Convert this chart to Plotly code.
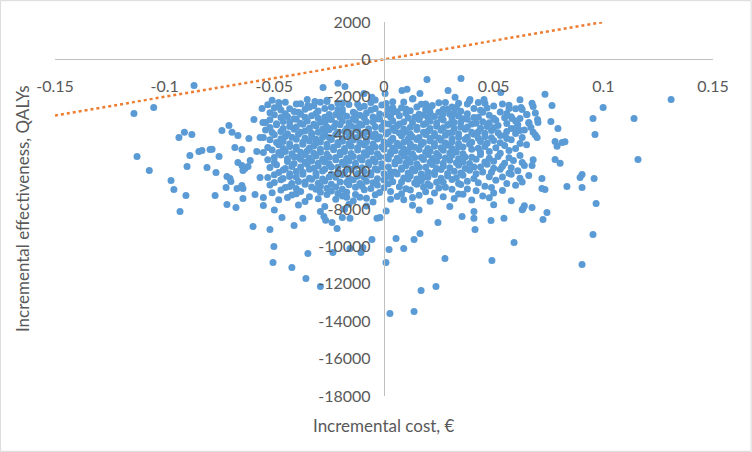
# %%
import plotly.graph_objects as go

# %%
# simulation points (incremental cost, incremental effect)
# dense central cloud, written row by row from top to bottom
core_cost = [
    -0.051, -0.045, -0.035, -0.026, -0.019, -0.004, 0.004, 0.013, 0.028, 0.039, 0.046, 0.062,
    -0.053, -0.048, -0.040, -0.032, -0.024, -0.016, -0.009, -0.001, 0.008, 0.017, 0.022, 0.031, 0.038, 0.050, 0.057, 0.068,
    -0.047, -0.041, -0.036, -0.030, -0.021, -0.014, -0.006, 0.002, 0.006, 0.012, 0.019, 0.025, 0.029, 0.035, 0.044, 0.053, 0.063,
    -0.050, -0.044, -0.038, -0.033, -0.027, -0.022, -0.017, -0.011, -0.005, 0.001, 0.007, 0.014, 0.018, 0.023, 0.030, 0.034, 0.041, 0.048, 0.058, 0.065,
    -0.052, -0.046, -0.040, -0.035, -0.029, -0.024, -0.019, -0.013, -0.008, -0.002, 0.004, 0.009, 0.016, 0.021, 0.027, 0.032, 0.038, 0.045, 0.051, 0.060, 0.070,
    -0.049, -0.043, -0.037, -0.031, -0.026, -0.020, -0.015, -0.010, -0.004, 0.002, 0.006, 0.012, 0.018, 0.024, 0.029, 0.035, 0.040, 0.047, 0.052, 0.061,
    -0.054, -0.047, -0.041, -0.036, -0.030, -0.025, -0.018, -0.012, -0.007, -0.001, 0.005, 0.010, 0.015, 0.020, 0.026, 0.031, 0.037, 0.043, 0.049, 0.056, 0.064,
    -0.050, -0.045, -0.039, -0.033, -0.028, -0.022, -0.016, -0.011, -0.005, 0.001, 0.008, 0.013, 0.019, 0.023, 0.028, 0.034, 0.041, 0.046, 0.053, 0.069,
    -0.052, -0.046, -0.040, -0.034, -0.029, -0.024, -0.019, -0.014, -0.008, -0.003, 0.003, 0.009, 0.015, 0.021, 0.026, 0.031, 0.037, 0.044, 0.050, 0.058,
    -0.048, -0.043, -0.037, -0.032, -0.026, -0.021, -0.015, -0.009, -0.004, 0.002, 0.007, 0.012, 0.017, 0.023, 0.029, 0.034, 0.039, 0.046, 0.055, 0.065,
    -0.051, -0.045, -0.040, -0.035, -0.029, -0.023, -0.018, -0.012, -0.006, 0.000, 0.005, 0.011, 0.016, 0.021, 0.027, 0.033, 0.040, 0.048, 0.057,
    -0.047, -0.041, -0.036, -0.031, -0.025, -0.020, -0.014, -0.008, -0.002, 0.003, 0.009, 0.014, 0.020, 0.025, 0.031, 0.037, 0.044, 0.052, 0.062,
    -0.053, -0.044, -0.038, -0.033, -0.027, -0.022, -0.016, -0.010, -0.004, 0.002, 0.007, 0.012, 0.018, 0.024, 0.030, 0.036, 0.042, 0.050, 0.059, 0.068,
    -0.049, -0.042, -0.035, -0.030, -0.024, -0.018, -0.013, -0.007, -0.001, 0.005, 0.010, 0.016, 0.022, 0.027, 0.034, 0.041, 0.047, 0.054, 0.064,
    -0.046, -0.040, -0.034, -0.028, -0.021, -0.015, -0.009, -0.003, 0.003, 0.008, 0.014, 0.020, 0.026, 0.032, 0.039, 0.045, 0.053, 0.061,
    -0.050, -0.043, -0.037, -0.031, -0.025, -0.019, -0.012, -0.006, 0.001, 0.006, 0.012, 0.018, 0.023, 0.029, 0.036, 0.048, 0.058, 0.066,
    -0.047, -0.039, -0.033, -0.027, -0.020, -0.014, -0.008, 0.000, 0.004, 0.011, 0.017, 0.024, 0.031, 0.038, 0.051, 0.063,
    -0.052, -0.043, -0.036, -0.029, -0.022, -0.016, -0.010, -0.003, 0.007, 0.015, 0.021, 0.028, 0.035, 0.046, 0.060,
    -0.047, -0.038, -0.031, -0.024, -0.017, -0.009, 0.003, 0.012, 0.019, 0.031, 0.042, 0.054,
    -0.042, -0.034, -0.026, -0.019, -0.011, -0.004, 0.006, 0.016, 0.027, 0.036, 0.045,
    -0.048, -0.036, -0.022, -0.014, -0.005, 0.009, 0.021, 0.040, 0.058,
    -0.039, -0.027, -0.016, -0.008, 0.013, 0.030, 0.050, 0.064,
    -0.050, -0.029, -0.018, 0.001, 0.016, 0.041, 0.063,
]
core_effect = [
    -2180, -2290, -2140, -2250, -2330, -2170, -2260, -2120, -2300, -2210, -2350, -2160,
    -2420, -2530, -2390, -2480, -2560, -2410, -2500, -2440, -2580, -2400, -2470, -2540, -2380, -2490, -2450, -2520,
    -2700, -2790, -2660, -2760, -2680, -2820, -2710, -2650, -2800, -2740, -2690, -2830, -2670, -2770, -2720, -2810, -2680,
    -2960, -3060, -2930, -3020, -3100, -2950, -3040, -2980, -3080, -2940, -3010, -3090, -2970, -3050, -2920, -3030, -3110, -2990, -3070, -2950,
    -3230, -3320, -3200, -3290, -3360, -3220, -3300, -3250, -3340, -3190, -3280, -3350, -3210, -3310, -3240, -3370, -3200, -3330, -3260, -3300, -3220,
    -3500, -3590, -3470, -3560, -3620, -3490, -3580, -3510, -3600, -3460, -3550, -3630, -3480, -3570, -3520, -3610, -3450, -3590, -3540, -3500,
    -3770, -3860, -3740, -3830, -3900, -3760, -3850, -3780, -3880, -3730, -3820, -3890, -3750, -3840, -3790, -3910, -3740, -3870, -3800, -3850, -3770,
    -4030, -4120, -4000, -4090, -4160, -4020, -4110, -4050, -4140, -3990, -4080, -4150, -4010, -4100, -4060, -4170, -4000, -4130, -4070, -4040,
    -4300, -4390, -4270, -4360, -4420, -4290, -4380, -4310, -4400, -4260, -4350, -4430, -4280, -4370, -4320, -4410, -4270, -4390, -4340, -4300,
    -4570, -4660, -4540, -4630, -4700, -4560, -4650, -4580, -4680, -4530, -4620, -4690, -4550, -4640, -4590, -4670, -4540, -4660, -4610, -4570,
    -4840, -4930, -4810, -4900, -4960, -4830, -4920, -4850, -4940, -4800, -4890, -4970, -4820, -4910, -4860, -4950, -4810, -4920, -4870,
    -5110, -5200, -5080, -5170, -5230, -5100, -5190, -5120, -5210, -5070, -5160, -5240, -5090, -5180, -5130, -5220, -5080, -5190, -5140,
    -5370, -5460, -5340, -5430, -5490, -5360, -5450, -5380, -5470, -5330, -5420, -5500, -5350, -5440, -5390, -5480, -5340, -5450, -5400, -5370,
    -5640, -5730, -5610, -5700, -5760, -5630, -5720, -5650, -5740, -5600, -5690, -5770, -5620, -5710, -5660, -5750, -5610, -5720, -5670,
    -5910, -6000, -5880, -5970, -6030, -5900, -5990, -5920, -6010, -5870, -5960, -6040, -5890, -5980, -5930, -6020, -5880, -5950,
    -6170, -6260, -6140, -6230, -6290, -6160, -6250, -6180, -6270, -6130, -6220, -6300, -6150, -6240, -6190, -6280, -6140, -6210,
    -6440, -6530, -6410, -6500, -6560, -6430, -6520, -6450, -6540, -6400, -6490, -6570, -6420, -6510, -6460, -6550,
    -6710, -6800, -6680, -6770, -6830, -6700, -6790, -6720, -6810, -6670, -6760, -6840, -6690, -6780, -6730,
    -6980, -7070, -6950, -7040, -7100, -6970, -7060, -6990, -7080, -6940, -7030, -7010,
    -7250, -7340, -7220, -7310, -7370, -7240, -7330, -7260, -7350, -7210, -7300,
    -7510, -7600, -7480, -7570, -7630, -7500, -7590, -7520, -7560,
    -7780, -7870, -7750, -7840, -7800, -7860, -7770, -7820,
    -8050, -8140, -8020, -8110, -8060, -8130, -8040,
]

# points lying between the rows above, where the cloud is densest
fill_cost = [
    -0.048, -0.038, -0.029, -0.021, -0.012, -0.006, 0.001, 0.009, 0.019, 0.025, 0.034, 0.043, 0.054,
    -0.050, -0.043, -0.034, -0.027, -0.019, -0.011, -0.004, 0.004, 0.010, 0.015, 0.021, 0.027, 0.033, 0.041, 0.047, 0.060,
    -0.052, -0.045, -0.039, -0.031, -0.025, -0.019, -0.013, -0.008, -0.002, 0.004, 0.010, 0.016, 0.021, 0.027, 0.032, 0.038, 0.045, 0.056, 0.069,
    -0.047, -0.041, -0.036, -0.030, -0.025, -0.020, -0.014, -0.009, -0.003, 0.003, 0.011, 0.016, 0.020, 0.026, 0.031, 0.036, 0.043, 0.050, 0.055, 0.062,
    -0.054, -0.049, -0.043, -0.038, -0.032, -0.027, -0.022, -0.016, -0.011, -0.005, 0.000, 0.007, 0.013, 0.019, 0.024, 0.030, 0.035, 0.042, 0.048, 0.056, 0.066,
    -0.052, -0.046, -0.040, -0.034, -0.028, -0.023, -0.017, -0.013, -0.007, -0.001, 0.004, 0.009, 0.015, 0.021, 0.027, 0.032, 0.038, 0.044, 0.050, 0.058, 0.067,
    -0.051, -0.044, -0.038, -0.033, -0.027, -0.021, -0.015, -0.009, -0.004, 0.002, 0.007, 0.012, 0.018, 0.023, 0.029, 0.034, 0.040, 0.046, 0.052, 0.060,
    -0.055, -0.047, -0.042, -0.036, -0.031, -0.025, -0.019, -0.013, -0.008, -0.002, 0.004, 0.011, 0.016, 0.021, 0.025, 0.031, 0.038, 0.043, 0.049, 0.056, 0.063,
    -0.049, -0.043, -0.037, -0.031, -0.026, -0.021, -0.016, -0.011, -0.005, 0.000, 0.006, 0.012, 0.018, 0.023, 0.028, 0.034, 0.040, 0.047, 0.053, 0.062,
    -0.053, -0.046, -0.040, -0.034, -0.029, -0.023, -0.018, -0.012, -0.007, -0.001, 0.004, 0.009, 0.014, 0.020, 0.026, 0.031, 0.036, 0.043, 0.051, 0.060,
    -0.048, -0.042, -0.038, -0.032, -0.026, -0.020, -0.015, -0.009, -0.003, 0.003, 0.008, 0.013, 0.019, 0.024, 0.030, 0.036, 0.044, 0.053,
    -0.050, -0.044, -0.039, -0.034, -0.028, -0.022, -0.017, -0.011, -0.005, 0.001, 0.006, 0.011, 0.017, 0.022, 0.028, 0.034, 0.040, 0.048, 0.057,
    -0.050, -0.041, -0.036, -0.030, -0.025, -0.019, -0.013, -0.007, -0.001, 0.005, 0.010, 0.015, 0.021, 0.027, 0.033, 0.039, 0.046, 0.055, 0.063,
    -0.052, -0.045, -0.038, -0.032, -0.027, -0.021, -0.016, -0.010, -0.004, 0.002, 0.008, 0.013, 0.019, 0.024, 0.030, 0.037, 0.044, 0.050, 0.058,
    -0.048, -0.043, -0.037, -0.031, -0.024, -0.018, -0.012, -0.006, 0.000, 0.005, 0.011, 0.017, 0.023, 0.029, 0.035, 0.042, 0.049, 0.057,
    -0.053, -0.046, -0.040, -0.034, -0.028, -0.022, -0.016, -0.009, -0.003, 0.003, 0.009, 0.015, 0.020, 0.026, 0.033, 0.041, 0.054, 0.062,
    -0.050, -0.042, -0.036, -0.030, -0.024, -0.017, -0.011, -0.005, 0.002, 0.008, 0.014, 0.020, 0.027, 0.034, 0.043, 0.056,
    -0.045, -0.040, -0.033, -0.026, -0.019, -0.013, -0.006, 0.000, 0.010, 0.018, 0.025, 0.038, 0.049,
    -0.051, -0.040, -0.029, -0.021, -0.013, -0.002, 0.008, 0.023, 0.034, 0.050,
    -0.044, -0.030, -0.017, -0.008, 0.003, 0.013, 0.032, 0.048,
]
fill_effect = [
    -2310, -2370, -2290, -2350, -2400, -2300, -2360, -2280, -2390, -2320, -2340, -2300, -2380,
    -2580, -2640, -2560, -2620, -2670, -2570, -2630, -2590, -2650, -2550, -2610, -2660, -2570, -2630, -2600, -2640,
    -2850, -2910, -2830, -2890, -2940, -2840, -2900, -2860, -2920, -2820, -2880, -2930, -2840, -2900, -2870, -2910, -2830, -2890, -2860,
    -3110, -3170, -3090, -3150, -3200, -3100, -3160, -3120, -3180, -3080, -3140, -3190, -3100, -3160, -3130, -3170, -3090, -3150, -3120, -3160,
    -3380, -3440, -3360, -3420, -3470, -3370, -3430, -3390, -3450, -3350, -3410, -3460, -3370, -3430, -3400, -3440, -3360, -3420, -3390, -3430, -3380,
    -3640, -3700, -3620, -3680, -3730, -3630, -3690, -3650, -3710, -3610, -3670, -3720, -3630, -3690, -3660, -3700, -3620, -3680, -3650, -3690, -3640,
    -3910, -3970, -3890, -3950, -4000, -3900, -3960, -3920, -3980, -3880, -3940, -3990, -3900, -3960, -3930, -3970, -3890, -3950, -3920, -3960,
    -4180, -4240, -4160, -4220, -4270, -4170, -4230, -4190, -4250, -4150, -4210, -4260, -4170, -4230, -4200, -4240, -4160, -4220, -4190, -4230, -4180,
    -4450, -4510, -4430, -4490, -4540, -4440, -4500, -4460, -4520, -4420, -4480, -4530, -4440, -4500, -4470, -4510, -4430, -4490, -4460, -4500,
    -4710, -4770, -4690, -4750, -4800, -4700, -4760, -4720, -4780, -4680, -4740, -4790, -4700, -4760, -4730, -4770, -4690, -4750, -4720, -4760,
    -4980, -5040, -4960, -5020, -5070, -4970, -5030, -4990, -5050, -4950, -5010, -5060, -4970, -5030, -5000, -5040, -4960, -5020,
    -5250, -5310, -5230, -5290, -5340, -5240, -5300, -5260, -5320, -5220, -5280, -5330, -5240, -5300, -5270, -5310, -5230, -5290, -5260,
    -5510, -5570, -5490, -5550, -5600, -5500, -5560, -5520, -5580, -5480, -5540, -5590, -5500, -5560, -5530, -5570, -5490, -5550, -5520,
    -5780, -5840, -5760, -5820, -5870, -5770, -5830, -5790, -5850, -5750, -5810, -5860, -5770, -5830, -5800, -5840, -5760, -5820, -5790,
    -6050, -6110, -6030, -6090, -6140, -6040, -6100, -6060, -6120, -6020, -6080, -6130, -6040, -6100, -6070, -6110, -6030, -6090,
    -6310, -6370, -6290, -6350, -6400, -6300, -6360, -6320, -6380, -6280, -6340, -6390, -6300, -6360, -6330, -6370, -6290, -6350,
    -6580, -6640, -6560, -6620, -6670, -6570, -6630, -6590, -6650, -6550, -6610, -6660, -6570, -6630, -6600, -6640,
    -6850, -6910, -6830, -6890, -6940, -6840, -6900, -6860, -6920, -6820, -6880, -6930, -6850,
    -7130, -7190, -7110, -7170, -7220, -7120, -7180, -7140, -7200, -7150,
    -7390, -7450, -7370, -7430, -7480, -7380, -7440, -7400,
]

# scattered points around the cloud
outer_cost = [
    -0.0866, -0.114, -0.105, -0.0935, -0.091, -0.0876, -0.0739, -0.0707, -0.0693, -0.0666,
    -0.0616, -0.0565, -0.0593, -0.0556, -0.0552, -0.1126, -0.107, -0.0971, -0.0958, -0.093,
    -0.0903, -0.0898, -0.0885, -0.0844, -0.083, -0.0793, -0.0784, -0.0807, -0.0766, -0.077,
    -0.0752, -0.0716, -0.0702, -0.0698, -0.072, -0.0716, -0.0675, -0.067, -0.0648, -0.0643,
    -0.0643, -0.0666, -0.0648, -0.0634, -0.062, -0.061, -0.0643, -0.0588, -0.058, -0.068,
    -0.0648, -0.0565, -0.055, -0.055, -0.055, -0.0597,
    -0.052, -0.0502, -0.0506, -0.0465, -0.041, -0.042, -0.037, -0.0347, -0.0356, -0.029,
    -0.0274, -0.0266, -0.0237, -0.0214, -0.019, -0.0155, -0.0233, -0.0155, -0.0105, -0.0096,
    -0.0055, -0.0032, -0.0018, 0.0009, 0.0023, 0.0055, 0.0027, 0.009,
    0.0246, 0.0356, 0.041, 0.0415, 0.0488, 0.0547, 0.0725, 0.0164, 0.0137, 0.0278,
    0.0492, 0.0593, 0.0237, 0.0169, 0.0137, 0.0953, 0.0903,
    0.0789, 0.078, 0.0803, 0.1158, 0.0903, 0.0894, 0.0958, 0.0834, 0.0903, 0.0967,
    0.0734, 0.0743, 0.1309, 0.0999, 0.0953, 0.114, 0.0962, 0.0766, 0.0761, 0.0793,
    0.078, 0.0812, 0.0825, 0.0734, 0.0196, 0.0351, 0.0533, 0.0292, 0.0324, 0.0392,
    0.0456, 0.0164, 0.0132, 0.0105, 0.0675, 0.0625, 0.057, 0.0652, 0.0661, 0.0702,
    0.0584, 0.0597, 0.062, 0.068, 0.0698, 0.0552, 0.072, 0.0675, 0.072, 0.0675, 0.0634,
    -0.021, -0.0278, -0.0178, -0.0091, -0.0055, 0.0005, -0.0315, -0.0347, -0.026, 0.0082,
]
outer_effect = [
    -1390, -2890, -2570, -4170, -3900, -4010, -3800, -3530, -3900, -4070,
    -4230, -4170, -3210, -2620, -3370, -5190, -5940, -6480, -6960, -8130,
    -7280, -5730, -5140, -4920, -4870, -4820, -4810, -5780, -6050, -7280,
    -5190, -6260, -6370, -6530, -6850, -7760, -7920, -6900, -6740, -6900,
    -7440, -5510, -5670, -5830, -5730, -5400, -5940, -7220, -4920, -4710,
    -4820, -6310, -4980, -7380, -7810, -8940,
    -9100, -10000, -10860, -8450, -8880, -11130, -8500, -10380, -11720, -12150,
    -8400, -8600, -8720, -9040, -8450, -8500, -10330, -10110, -10330, -10060,
    -9630, -8500, -8450, -10860, -10170, -9580, -13590, -10110,
    -8720, -8400, -8500, -9100, -8610, -8500, -8560, -9310, -9630, -10650,
    -10750, -9790, -12150, -12360, -13480, -9360, -10970,
    -4650, -5350, -5560, -5350, -6150, -6310, -6370, -6800, -6850, -7700,
    -6960, -8190, -2140, -2570, -3160, -3160, -4010, -2460, -3320, -3690,
    -4390, -4440, -4400, -1870, -1070, -1020, -1770, -1660, -2030, -2140,
    -2140, -1820, -2090, -1600, -2350, -2570, -2620, -2940, -3420, -3370,
    -3160, -3690, -3800, -3900, -4170, -4070, -6370, -5670, -6900, -7920, -7970,
    -1280, -1500, -1450, -1820, -2030, -1820, -2250, -2460, -2190, -1660,
]

# willingness-to-pay threshold line
wtp_cost = [-0.15, 0.1]
wtp_effect = [-3000, 2000]

x_ticks = [-0.15, -0.1, -0.05, 0, 0.05, 0.1, 0.15]
x_labels = ["-0.15", "-0.1", "-0.05", "0", "0.05", "0.1", "0.15"]
y_ticks = [2000, 0, -2000, -4000, -6000, -8000, -10000, -12000, -14000, -16000, -18000]
y_labels = ["2000", "0", "-2000", "-4000", "-6000", "-8000", "-10000", "-12000", "-14000", "-16000", "-18000"]

# %%
fig = go.Figure()
fig.add_trace(
    go.Scatter(
        x=core_cost + fill_cost + outer_cost,
        y=core_effect + fill_effect + outer_effect,
        mode="markers",
        marker=dict(color="#5B9BD5", size=7),
        showlegend=False,
    )
)
fig.add_trace(
    go.Scatter(
        x=wtp_cost,
        y=wtp_effect,
        mode="lines",
        line=dict(color="#ED7D31", width=2.5, dash="dot"),
        showlegend=False,
    )
)

axis_font = dict(family="Lato", size=16, color="#595959")
fig.update_layout(
    width=752,
    height=452,
    margin=dict(l=55, r=39, t=22, b=56),
    plot_bgcolor="white",
    paper_bgcolor="white",
    font=axis_font,
    xaxis=dict(
        range=[-0.15, 0.15],
        tickvals=x_ticks,
        ticktext=x_labels,
        showgrid=False,
        zeroline=False,
        showline=True,
        linecolor="#BFBFBF",
        linewidth=1.3,
        ticks="outside",
        ticklen=12,
        tickcolor="rgba(0,0,0,0)",
        anchor="free",
        position=0.9,
        automargin=False,
        tickfont=axis_font,
    ),
    yaxis=dict(
        range=[-18000, 2000],
        tickvals=y_ticks,
        ticktext=y_labels,
        showgrid=False,
        zeroline=False,
        showline=True,
        linecolor="#BFBFBF",
        linewidth=1.3,
        ticks="outside",
        ticklen=10,
        tickcolor="rgba(0,0,0,0)",
        anchor="free",
        position=0.5,
        automargin=False,
        tickfont=axis_font,
    ),
    annotations=[
        dict(
            text="Incremental cost, €",
            xref="paper",
            yref="paper",
            x=0.5,
            y=-0.078,
            yanchor="middle",
            showarrow=False,
            font=dict(family="Lato", size=17, color="#595959"),
        ),
        dict(
            text="Incremental effectiveness, QALYs",
            xref="paper",
            yref="paper",
            x=-0.05,
            y=0.5,
            xanchor="center",
            textangle=-90,
            showarrow=False,
            font=dict(family="Lato", size=17, color="#595959"),
        ),
    ],
    shapes=[
        dict(
            type="rect",
            xref="paper",
            yref="paper",
            x0=-0.083,
            x1=1.058,
            y0=-0.148,
            y1=1.057,
            line=dict(color="#D9D9D9", width=1),
        )
    ],
)

# drop the default page margin so the chart sits at the window's corner
fig.write_html(
    "out.html",
    config={"displayModeBar": False},
    post_script="document.body.style.margin = '0';",
)
